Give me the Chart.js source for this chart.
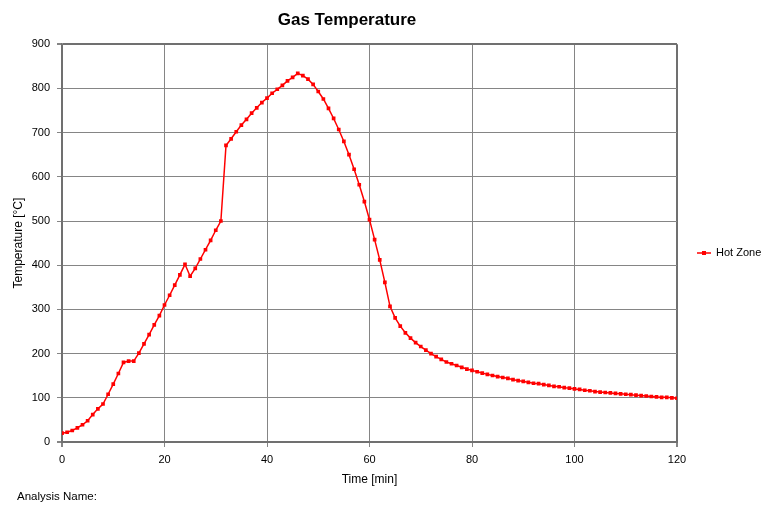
<!DOCTYPE html>
<html>
<head>
<meta charset="utf-8">
<script src="https://cdn.jsdelivr.net/npm/chart.js@4/dist/chart.umd.min.js"></script>
<style>
  html, body { margin: 0; padding: 0; background: #fff; }
  #wrap { position: relative; width: 764px; height: 505px; }
  #note { position: absolute; left: 17px; top: 490px; font: 11.5px "Liberation Sans", Arial, sans-serif; color: #000; }
</style>
</head>
<body>
<div id="wrap">
  <canvas id="chart" width="764" height="505"></canvas>
  <div id="note">Analysis Name:</div>
</div>
<script>
const TITLE = "Gas Temperature";
const SERIES_NAME = "Hot Zone";

const times = [
  0, 1, 2, 3, 4, 5, 6, 7, 8, 9, 10, 11, 12, 13, 14, 15, 16, 17, 18, 19,
  20, 21, 22, 23, 24, 25, 26, 27, 28, 29, 30, 31, 32, 33, 34, 35, 36, 37, 38, 39,
  40, 41, 42, 43, 44, 45, 46, 47, 48, 49, 50, 51, 52, 53, 54, 55, 56, 57, 58, 59,
  60, 61, 62, 63, 64, 65, 66, 67, 68, 69, 70, 71, 72, 73, 74, 75, 76, 77, 78, 79,
  80, 81, 82, 83, 84, 85, 86, 87, 88, 89, 90, 91, 92, 93, 94, 95, 96, 97, 98, 99,
  100, 101, 102, 103, 104, 105, 106, 107, 108, 109, 110, 111, 112, 113, 114, 115, 116, 117, 118, 119,
  120
];

const temps = [
  20, 22, 26, 32, 39, 48, 62, 75, 86, 108, 131, 155, 180, 183, 183, 201, 222, 243, 265, 286,
  310, 332, 355, 378, 402, 375, 393, 414, 435, 456, 479, 500, 671, 686, 702, 717, 730, 744, 756, 768,
  778, 789, 798, 807, 817, 825, 834, 829, 821, 809, 793, 776, 755, 732, 707, 680, 650, 617, 582, 544,
  503, 458, 412, 361, 307, 281, 262, 247, 235, 225, 216, 208, 200, 193, 187, 181, 177, 173, 169, 165,
  162, 159, 156, 153, 150.5, 148, 146, 144, 141, 139, 137, 135, 133, 132, 130, 128, 126, 125, 123, 122,
  120, 119, 117, 116, 114, 113, 112, 111, 110, 109, 108, 107, 106, 105, 104, 103, 102, 101, 101, 100,
  99
];

const xTicks = [0, 20, 40, 60, 80, 100, 120];
const yTicks = [0, 100, 200, 300, 400, 500, 600, 700, 800, 900];

const FONT = "'Liberation Sans', Arial, sans-serif";
const RED = "#ff0000";
const GRID = "#858585";

// legend drawn by hand: short line with a square marker, text on the right
const sideLegend = {
  id: "sideLegend",
  afterDraw(chart) {
    const ctx = chart.ctx;
    const y = 253;
    ctx.save();
    ctx.strokeStyle = RED;
    ctx.lineWidth = 1.5;
    ctx.beginPath();
    ctx.moveTo(697, y);
    ctx.lineTo(711, y);
    ctx.stroke();
    ctx.fillStyle = RED;
    ctx.fillRect(702, y - 2, 4, 4);
    ctx.fillStyle = "#000";
    ctx.font = "11px " + FONT;
    ctx.textBaseline = "middle";
    ctx.fillText(SERIES_NAME, 716, y);
    ctx.restore();
  }
};

const edgeWidth = (c, last) => (c.tick && (c.tick.value === 0 || c.tick.value === last)) ? 2 : 1;
const edgeColor = (c, last) => (c.tick && (c.tick.value === 0 || c.tick.value === last)) ? "#707070" : GRID;

new Chart(document.getElementById("chart"), {
  type: "line",
  data: {
    datasets: [{
      label: SERIES_NAME,
      data: times.map((t, i) => ({ x: t, y: temps[i] })),
      borderColor: RED,
      backgroundColor: RED,
      borderWidth: 1.5,
      pointStyle: "rect",
      pointRadius: 2.6,
      pointBorderWidth: 0,
      tension: 0
    }]
  },
  options: {
    responsive: false,
    animation: false,
    layout: { padding: { left: 17, right: 87, top: 0, bottom: 18 } },
    plugins: {
      legend: { display: false },
      tooltip: { enabled: false },
      title: {
        display: true,
        text: TITLE,
        color: "#000",
        font: { family: FONT, size: 17, weight: "bold" },
        padding: { top: 10.5, bottom: 13.3 }
      }
    },
    scales: {
      x: {
        type: "linear",
        min: 0, max: 120,
        afterBuildTicks: s => { s.ticks = xTicks.map(v => ({ value: v })); },
        afterFit: s => { s.height = 45; },
        ticks: { color: "#000", font: { family: FONT, size: 11 }, padding: 6, maxRotation: 0 },
        grid: {
          color: c => edgeColor(c, 120),
          lineWidth: c => edgeWidth(c, 120),
          tickLength: 5,
          tickColor: GRID
        },
        border: { color: "#707070", width: 2 },
        title: { display: true, text: "Time [min]", color: "#000", font: { family: FONT, size: 12 }, padding: { top: 4, bottom: 0 } }
      },
      y: {
        min: 0, max: 900,
        afterBuildTicks: s => { s.ticks = yTicks.map(v => ({ value: v })); },
        afterFit: s => { s.width = 45; },
        ticks: { color: "#000", font: { family: FONT, size: 11 }, padding: 7 },
        grid: {
          color: c => edgeColor(c, 900),
          lineWidth: c => edgeWidth(c, 900),
          tickLength: 5,
          tickColor: GRID
        },
        border: { color: "#707070", width: 1.5 },
        title: { display: true, text: "Temperature [°C]", color: "#000", font: { family: FONT, size: 12 }, padding: { top: -6, bottom: 4 } }
      }
    }
  },
  plugins: [sideLegend]
});
</script>
</body>
</html>
